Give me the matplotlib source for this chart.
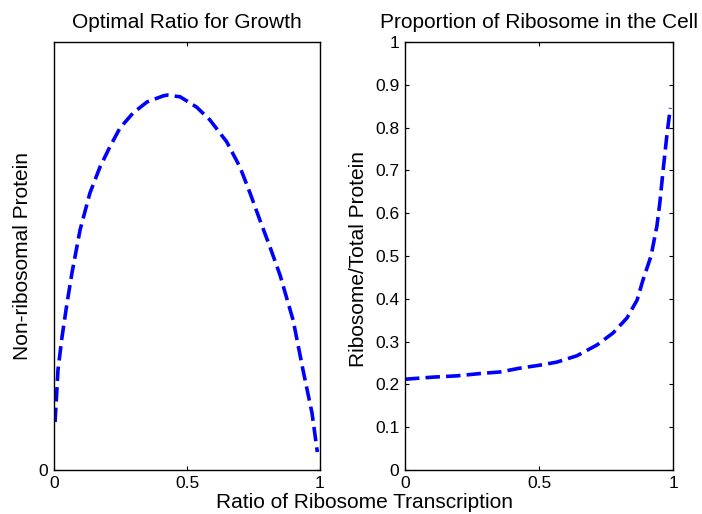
import numpy as np
import matplotlib.pyplot as plt
from matplotlib.ticker import FormatStrFormatter

plt.rcParams['font.family'] = ['Liberation Sans', 'DejaVu Sans']

# Non-ribosomal protein vs ratio of ribosome transcription
ratio_growth = [0.004, 0.015, 0.030, 0.049, 0.068, 0.098, 0.135, 0.173, 0.21, 0.248,
                0.297, 0.35, 0.41, 0.425, 0.474, 0.536, 0.586, 0.649, 0.699, 0.737,
                0.774, 0.812, 0.85, 0.899, 0.936, 0.97, 0.99]
nonribo = [0.112, 0.234, 0.31, 0.39, 0.462, 0.561, 0.647, 0.708, 0.755, 0.799,
           0.834, 0.86, 0.874, 0.876, 0.872, 0.848, 0.818, 0.767, 0.708, 0.647,
           0.584, 0.521, 0.455, 0.35, 0.234, 0.133, 0.042]

# Ribosome fraction of total protein
ratio_ribo = [0.0, 0.019, 0.105, 0.193, 0.292, 0.354, 0.429, 0.504, 0.566, 0.642,
              0.716, 0.776, 0.828, 0.866, 0.888, 0.918, 0.94, 0.951, 0.963, 0.978, 0.99]
ribo_frac = [0.212, 0.213, 0.217, 0.22, 0.226, 0.229, 0.238, 0.245, 0.252, 0.267,
             0.292, 0.32, 0.355, 0.397, 0.444, 0.50, 0.57, 0.625, 0.70, 0.787, 0.846]

fig = plt.figure(figsize=(7.02, 5.14), dpi=100)
ax1 = fig.add_axes([54 / 702, 1 - 470 / 514, 266 / 702, 428 / 514])
ax2 = fig.add_axes([405 / 702, 1 - 470 / 514, 268 / 702, 428 / 514])

for ax in (ax1, ax2):
    ax.set_xlim(0, 1)
    ax.set_ylim(0, 1)
    ax.set_xticks([0, 0.5, 1])
    ax.xaxis.set_major_formatter(FormatStrFormatter('%g'))
    ax.yaxis.set_major_formatter(FormatStrFormatter('%g'))
    ax.tick_params(direction='in', top=True, right=True, length=3,
                   labelsize=12.5, pad=4, width=0.8)
    for s in ax.spines.values():
        s.set_linewidth(1.0)

ax1.plot(ratio_growth, nonribo, color='#0000ff', linestyle='--', linewidth=2.6,
         dashes=(4, 1.7))
ax1.set_yticks([0])
ax1.set_title('Optimal Ratio for Growth', fontsize=15, pad=10)

ax2.plot(ratio_ribo, ribo_frac, color='#0000ff', linestyle='--', linewidth=2.6,
         dashes=(4, 1.7))
ax2.set_yticks(np.arange(0, 11) / 10)
ax2.set_title('Proportion of Ribosome in the Cell', fontsize=15, pad=10)

# axis labels placed in figure coordinates
fig.text(23 / 702, 1 - 256 / 514, 'Non-ribosomal Protein', fontsize=15,
         rotation=90, ha='center', va='center')
fig.text(358 / 702, 1 - 259 / 514, 'Ribosome/Total Protein', fontsize=15,
         rotation=90, ha='center', va='center')
fig.text(365 / 702, 1 - 503 / 514, 'Ratio of Ribosome Transcription',
         fontsize=15, ha='center', va='center')

fig.savefig('out.png', dpi=100)
